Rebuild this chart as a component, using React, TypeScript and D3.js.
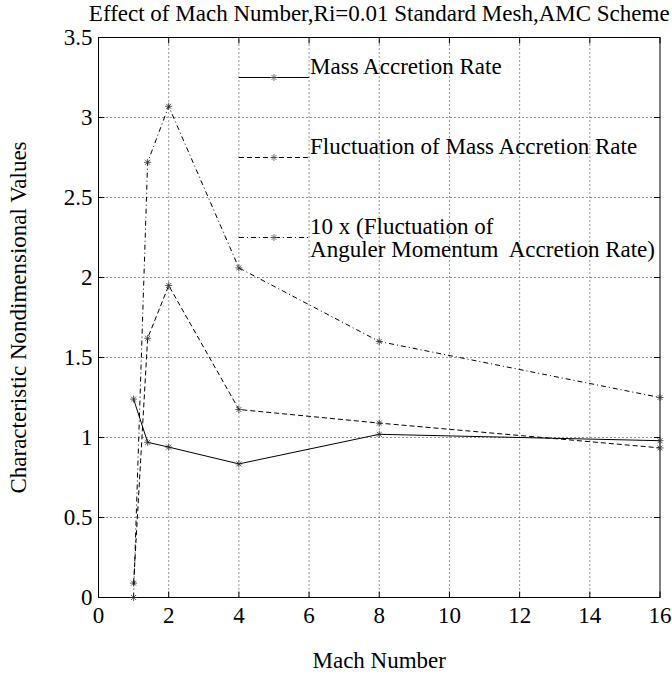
import React from "react";
import * as d3 from "d3";

const mach = [1, 1.4, 2, 4, 8, 16];
const massRate = [1.24, 0.97, 0.94, 0.835, 1.02, 0.98];
const flucMass = [0.09, 1.62, 1.95, 1.175, 1.09, 0.935];
const flucAngular = [0.0, 2.72, 3.07, 2.06, 1.6, 1.25];

const xTicks = [0, 2, 4, 6, 8, 10, 12, 14, 16];
const yTicks = [0, 0.5, 1, 1.5, 2, 2.5, 3, 3.5];

const W = 672;
const H = 677;
const margin = { top: 37.5, right: 12, bottom: 79.5, left: 98.5 };
const font = "'Liberation Serif', 'Times New Roman', serif";
const fs = 23;

const series = [
  { name: ["Mass Accretion Rate"], values: massRate, dash: "none", ly: 3.25 },
  { name: ["Fluctuation of Mass Accretion Rate"], values: flucMass, dash: "5,3", ly: 2.75 },
  {
    name: ["10 x (Fluctuation of", "Anguler Momentum  Accretion Rate)"],
    values: flucAngular,
    dash: "5,3,1,3",
    ly: 2.25,
  },
];

const star = "M-3.5,0H3.5M0,-3.5V3.5M-2.5,-2.5L2.5,2.5M-2.5,2.5L2.5,-2.5";

export default function App() {
  const x = d3.scaleLinear().domain([0, 16]).range([margin.left, W - margin.right]);
  const y = d3.scaleLinear().domain([0, 3.5]).range([H - margin.bottom, margin.top]);
  const [x0, x1] = x.range();
  const [y0, y1] = y.range();

  const line = d3
    .line<number>()
    .x((_, i) => x(mach[i]))
    .y((d) => y(d));

  return (
    <svg
      width={W}
      height={H}
      style={{ position: "absolute", left: 0, top: 0, background: "#fff" }}
      fontFamily={font}
    >
      <rect x={0} y={0} width={W} height={H} fill="#fff" />
      {/* grid */}
      {xTicks.slice(1, -1).map((t) => (
        <line key={"gx" + t} x1={x(t)} x2={x(t)} y1={y0} y2={y1} stroke="#333" strokeDasharray="1,3" />
      ))}
      {yTicks.slice(1, -1).map((t) => (
        <line key={"gy" + t} x1={x0} x2={x1} y1={y(t)} y2={y(t)} stroke="#333" strokeDasharray="1,3" />
      ))}
      {/* ticks */}
      {xTicks.map((t) => (
        <g key={"tx" + t}>
          <line x1={x(t)} x2={x(t)} y1={y0} y2={y0 - 6} stroke="#000" />
          <line x1={x(t)} x2={x(t)} y1={y1} y2={y1 + 6} stroke="#000" />
          <text x={x(t)} y={y0 + 25} fontSize={fs} textAnchor="middle">
            {t}
          </text>
        </g>
      ))}
      {yTicks.map((t) => (
        <g key={"ty" + t}>
          <line x1={x0} x2={x0 + 6} y1={y(t)} y2={y(t)} stroke="#000" />
          <line x1={x1} x2={x1 - 6} y1={y(t)} y2={y(t)} stroke="#000" />
          <text x={x0 - 6} y={y(t) + 7} fontSize={fs} textAnchor="end">
            {t}
          </text>
        </g>
      ))}
      <rect x={x0} y={y1} width={x1 - x0} height={y0 - y1} fill="none" stroke="#000" />

      {/* series */}
      {series.map((s, si) => (
        <g key={"s" + si}>
          <path d={line(s.values) || ""} fill="none" stroke="#000" strokeDasharray={s.dash} />
          {s.values.map((v, i) => (
            <path key={i} d={star} transform={`translate(${x(mach[i])},${y(v)})`} stroke="#333" fill="none" strokeWidth={0.8} />
          ))}
        </g>
      ))}

      {/* legend */}
      {series.map((s, si) => (
        <g key={"l" + si}>
          <line x1={x(4)} x2={x(6)} y1={y(s.ly)} y2={y(s.ly)} stroke="#000" strokeDasharray={s.dash} />
          <path d={star} transform={`translate(${x(5)},${y(s.ly)})`} stroke="#555" fill="none" strokeWidth={0.8} />
          {s.name.map((n, k) => (
            <text key={k} x={x(6) + 1} y={y(s.ly) - 4 + k * 23} fontSize={fs} style={{ whiteSpace: "pre" }}>
              {n}
            </text>
          ))}
        </g>
      ))}

      {/* titles */}
      <text x={(x0 + x1) / 2} y={21} fontSize={fs} textAnchor="middle">
        Effect of Mach Number,Ri=0.01 Standard Mesh,AMC Scheme
      </text>
      <text x={(x0 + x1) / 2} y={668} fontSize={fs} textAnchor="middle">
        Mach Number
      </text>
      <text transform={`translate(26,${(y0 + y1) / 2}) rotate(-90)`} fontSize={fs} textAnchor="middle">
        Characteristic Nondimensional Values
      </text>
    </svg>
  );
}
